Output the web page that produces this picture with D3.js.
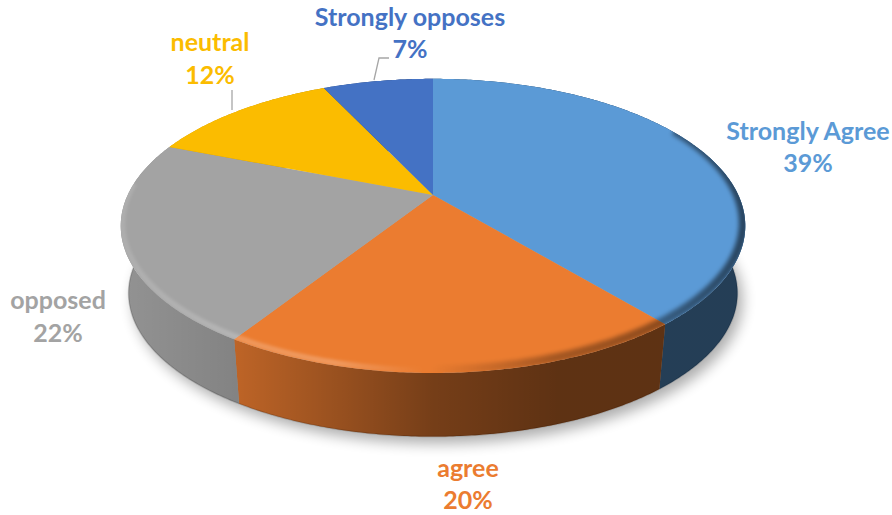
<!DOCTYPE html>
<html>
<head>
<meta charset="utf-8">
<script src="https://cdn.jsdelivr.net/npm/d3@7/dist/d3.min.js"></script>
<style>
  html, body { margin: 0; padding: 0; background: #fff; }
  svg { display: block; }
  text { font-family: Lato, "Open Sans", sans-serif; font-weight: 700; font-size: 25px; text-anchor: middle; }
</style>
</head>
<body>
<svg id="chart" width="892" height="515"></svg>
<script>
// Survey responses, clockwise from twelve o'clock
const categories = ["Strongly Agree", "agree", "opposed", "neutral", "Strongly opposes"];
const shares = [39, 20, 22, 12, 7];
const colours = ["#5B9AD6", "#EB7C30", "#A3A3A3", "#FBBC00", "#4472C4"];

// Label anchors: centre x, first and second baselines
const labelSpots = [[808, 140, 172], [468, 477, 509], [58, 309, 342], [210, 51, 84], [410, 26, 58]];

// Tilted disc: the circle is projected with perspective, then extruded downwards
const apex = { x: 433, y: 195 };
const persp = { rx: 305.3, ry: 140.6, k: -0.2100 };
const base = { scale: 0.975, drop: 68 };

const project = t => {
  const u = Math.sin(t), v = -Math.cos(t), w = 1 + persp.k * v;
  return [apex.x + persp.rx * u / w, apex.y + persp.ry * v / w];
};
const projectBase = t => {
  const [x, y] = project(t);
  return [apex.x + (x - apex.x) * base.scale, apex.y + (y - apex.y) * base.scale + base.drop];
};
const samples = (a, b) => {
  const n = Math.max(2, Math.ceil((b - a) / 0.01));
  return d3.range(n + 1).map(i => a + (b - a) * i / n);
};

const line = d3.line();
const svg = d3.select("#chart");
const defs = svg.append("defs");

const slices = d3.pie().sort(null).value(d => d)(shares);
const tau = 2 * Math.PI;

const addBlur = (id, amount) => defs.append("filter").attr("id", id)
  .attr("x", "-10%").attr("y", "-10%").attr("width", "120%").attr("height", "120%")
  .append("feGaussianBlur").attr("stdDeviation", amount);
addBlur("shadowBlur", 7);
addBlur("glowBlur", 1.5);
addBlur("darkBlur", 2.2);

const addShade = (id, stops) => {
  const g = defs.append("linearGradient").attr("id", id)
    .attr("gradientUnits", "userSpaceOnUse").attr("x1", 121).attr("x2", 745).attr("y1", 0).attr("y2", 0);
  stops.forEach(([o, c, a]) =>
    g.append("stop").attr("offset", o).attr("stop-color", c).attr("stop-opacity", a));
};
// Darkening of the outer wall, growing from left to right
addShade("wallShade", [[0, "#000", 0.10], [0.19, "#000", 0.20], [0.50, "#000", 0.50], [0.70, "#000", 0.60], [1, "#000", 0.60]]);
// Rim bevel: a highlight on the left, a shadow on the right
addShade("glowShade", [[0, "#fff", 0.12], [0.2, "#fff", 0.2], [0.34, "#fff", 0.22], [0.48, "#fff", 0]]);
addShade("darkShade", [[0.5, "#000", 0], [0.7, "#000", 0.3], [0.85, "#000", 0.38], [1, "#000", 0.55]]);

const discOutline = line(samples(0, tau).map(project)) + "Z";
defs.append("clipPath").attr("id", "discClip").append("path").attr("d", discOutline);

// Soft shadow under the disc
svg.append("path")
  .attr("d", line(samples(0, tau).map(projectBase)) + "Z")
  .attr("transform", "translate(5,7)")
  .attr("fill", "#000").attr("opacity", 0.32)
  .attr("filter", "url(#shadowBlur)");

const wallPath = d => line(samples(d.startAngle, d.endAngle).map(project)
  .concat(samples(d.startAngle, d.endAngle).reverse().map(projectBase))) + "Z";

// Outer wall of each slice
const walls = svg.append("g");
walls.selectAll("path.wall").data(slices).join("path")
  .attr("class", "wall").attr("d", wallPath)
  .attr("fill", d => colours[d.index]);
walls.selectAll("path.shade").data(slices).join("path")
  .attr("class", "shade").attr("d", wallPath)
  .attr("fill", "url(#wallShade)");
walls.append("path")
  .attr("d", line(samples(tau * 0.23, tau * 0.77).map(projectBase)))
  .attr("fill", "none").attr("stroke", "#000").attr("stroke-opacity", 0.16).attr("stroke-width", 1.5);

// Top faces
svg.append("g").selectAll("path").data(slices).join("path")
  .attr("d", d => line([[apex.x, apex.y]].concat(samples(d.startAngle, d.endAngle).map(project))) + "Z")
  .attr("fill", d => colours[d.index]);

// Bevel along the front rim, kept inside the top face; the nudged bands thin out towards the back
const bevel = svg.append("g").attr("clip-path", "url(#discClip)");
bevel.append("path")
  .attr("d", line(samples(tau * 0.45, tau * 0.76).map(project)))
  .attr("transform", "translate(1.5,-2.5)")
  .attr("fill", "none").attr("stroke", "url(#glowShade)")
  .attr("stroke-width", 6).attr("filter", "url(#glowBlur)");
bevel.append("path")
  .attr("d", line(samples(tau * 0.17, tau * 0.5).map(project)))
  .attr("transform", "translate(-2,-3)")
  .attr("fill", "none").attr("stroke", "url(#darkShade)")
  .attr("stroke-width", 9).attr("filter", "url(#darkBlur)");

// Leader lines for the two labels lifted off the disc
const leaders = [[[232, 90], [232, 110]], [[374, 80], [379, 58], [389, 58]]];
svg.append("g").selectAll("path").data(leaders).join("path")
  .attr("d", d => line(d))
  .attr("fill", "none").attr("stroke", "#A6A6A6").attr("stroke-width", 1.3);

// Two-line labels: category name and share
const labels = svg.append("g").selectAll("g").data(slices).join("g")
  .attr("fill", d => colours[d.index]);
labels.append("text")
  .attr("x", d => labelSpots[d.index][0]).attr("y", d => labelSpots[d.index][1])
  .text(d => categories[d.index]);
labels.append("text")
  .attr("x", d => labelSpots[d.index][0]).attr("y", d => labelSpots[d.index][2])
  .text(d => d.value + "%");
</script>
</body>
</html>
